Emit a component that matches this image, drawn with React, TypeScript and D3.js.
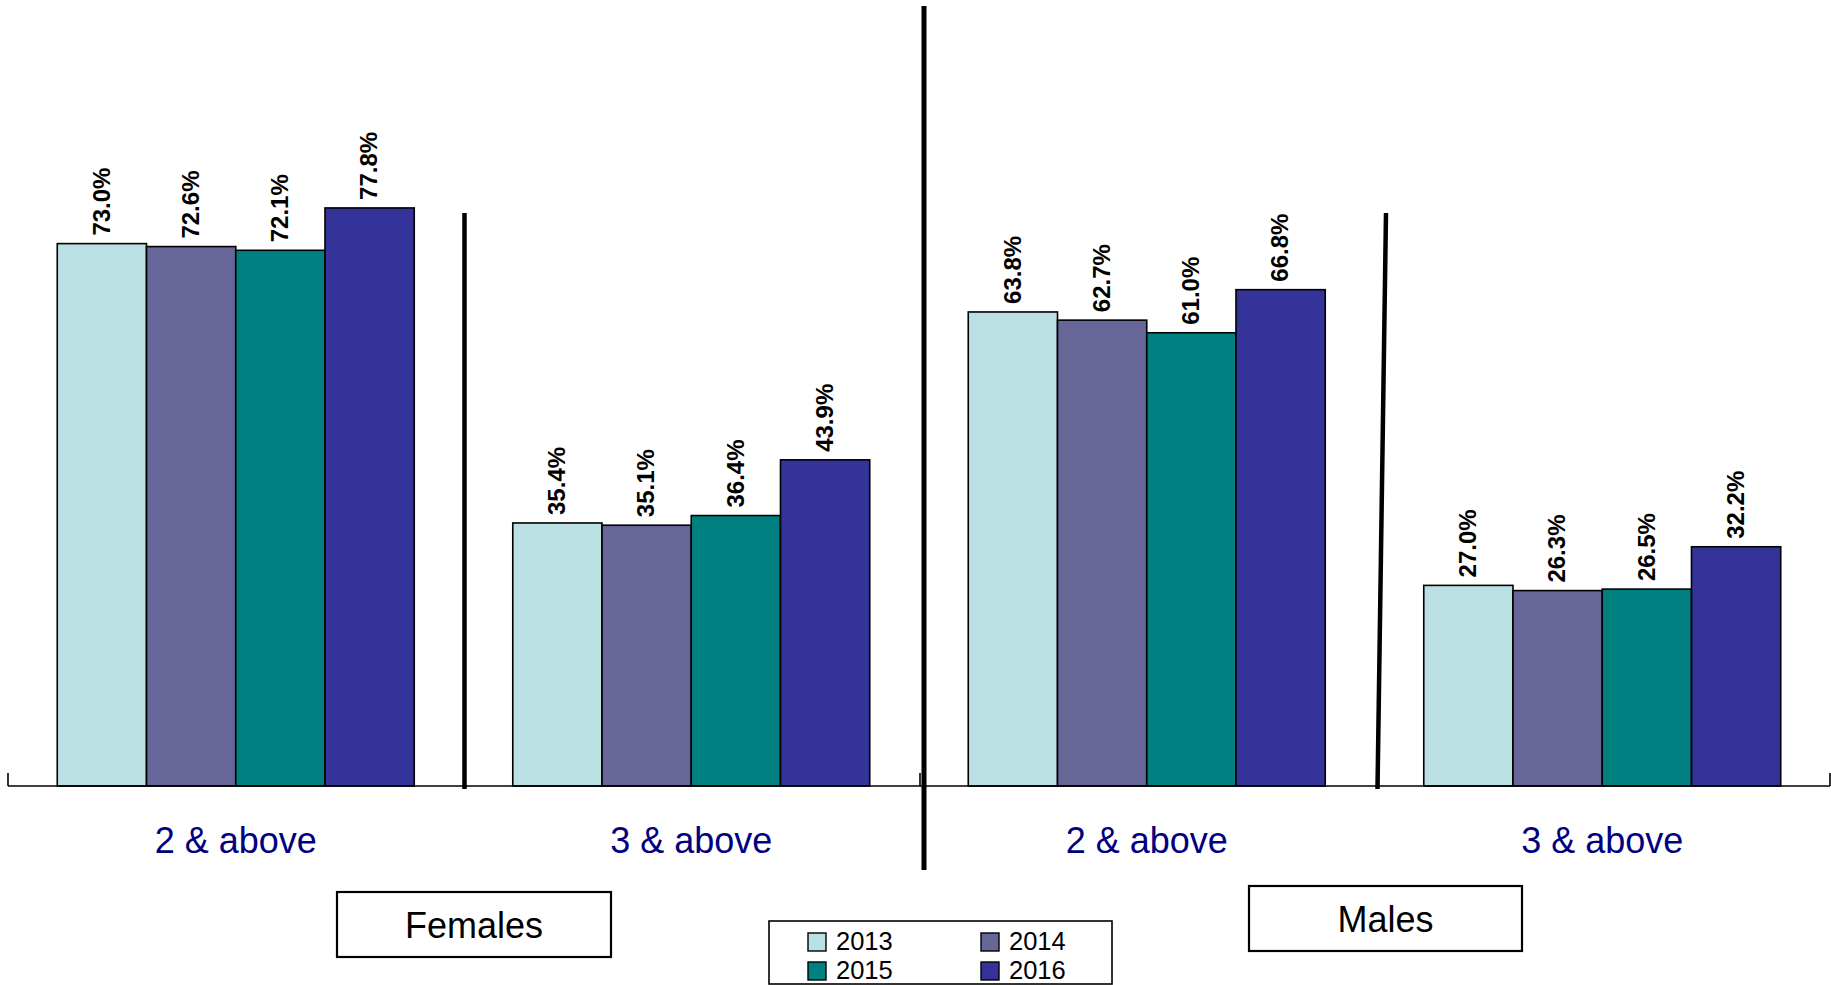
import React from "react";
import * as d3 from "d3";

const categories = ["F2", "F3", "M2", "M3"];
const categoryLabels = ["2 & above", "3 & above", "2 & above", "3 & above"];
const years = ["2013", "2014", "2015", "2016"];
const values2013 = [73.0, 35.4, 63.8, 27.0];
const values2014 = [72.6, 35.1, 62.7, 26.3];
const values2015 = [72.1, 36.4, 61.0, 26.5];
const values2016 = [77.8, 43.9, 66.8, 32.2];
const colors = ["#BBE0E3", "#666699", "#008080", "#333399"];
const groupLabels = ["Females", "Males"];

const W = 1831;
const H = 985;
const FONT = "'Liberation Sans', Arial, Helvetica, sans-serif";

export default function App() {
  const series = [values2013, values2014, values2015, values2016];
  const x = d3.scaleBand<string>().domain(categories).range([8, 1830]).paddingInner(0).paddingOuter(0);
  const xi = d3.scaleBand<string>().domain(years).range([0, x.bandwidth()]).paddingInner(0).paddingOuter(0.552);
  const y = d3.scaleLinear().domain([0, 100]).range([786, 43]);
  const y0 = y(0);

  const midX = 920;

  return (
    <div style={{ position: "absolute", left: 0, top: 0, width: W, height: H, overflow: "hidden", background: "#fff" }}>
      <svg width={W} height={H} style={{ display: "block" }} fontFamily={FONT}>
        {/* bars */}
        {categories.map((c, ci) => (
          <g key={c} transform={`translate(${x(c)},0)`}>
            {years.map((yr, si) => {
              const v = series[si][ci];
              const bx = xi(yr)!;
              const top = y(v);
              return (
                <g key={yr}>
                  <rect x={bx} y={top} width={xi.bandwidth()} height={y0 - top} fill={colors[si]} stroke="#000" strokeWidth={1.6} />
                  <text
                    transform={`translate(${bx + xi.bandwidth() / 2 - 1},${top - 8}) rotate(-90)`}
                    dy="0.36em"
                    fontSize={24}
                    fontWeight="bold"
                    fill="#000"
                  >
                    {v.toFixed(1)}%
                  </text>
                </g>
              );
            })}
            <text x={x.bandwidth() / 2} y={853} textAnchor="middle" fontSize={36} fill="#000080">
              {categoryLabels[ci]}
            </text>
          </g>
        ))}

        {/* axis */}
        <line x1={8} x2={1830} y1={y0} y2={y0} stroke="#000" strokeWidth={1.6} />
        {[8, midX, 1830].map((t) => (
          <line key={t} x1={t} x2={t} y1={y0 - 13} y2={y0} stroke="#000" strokeWidth={1.6} />
        ))}

        {/* dividers */}
        <line x1={464.5} x2={464.5} y1={213} y2={789} stroke="#000" strokeWidth={4.5} />
        <line x1={924} x2={924} y1={6} y2={870} stroke="#000" strokeWidth={5} />
        <line x1={1386} x2={1377.5} y1={213} y2={789} stroke="#000" strokeWidth={4.5} />

        {/* group label boxes */}
        <rect x={337} y={892} width={274} height={65} fill="#fff" stroke="#000" strokeWidth={2.2} />
        <text x={474} y={938} textAnchor="middle" fontSize={36} fill="#000">{groupLabels[0]}</text>
        <rect x={1249} y={886} width={273} height={65} fill="#fff" stroke="#000" strokeWidth={2.2} />
        <text x={1385.5} y={932} textAnchor="middle" fontSize={36} fill="#000">{groupLabels[1]}</text>

        {/* legend */}
        <rect x={769} y={921} width={343} height={63} fill="#fff" stroke="#000" strokeWidth={1.6} />
        {years.map((yr, i) => {
          const col = i % 2;
          const row = Math.floor(i / 2);
          const sx = col === 0 ? 808 : 981;
          const sy = row === 0 ? 933 : 962;
          const base = row === 0 ? 950 : 978.5;
          return (
            <g key={yr}>
              <rect x={sx} y={sy} width={18} height={18} fill={colors[i]} stroke="#000" strokeWidth={1.4} />
              <text x={sx + 28} y={base} fontSize={25.5} fill="#000">{yr}</text>
            </g>
          );
        })}
      </svg>
    </div>
  );
}
